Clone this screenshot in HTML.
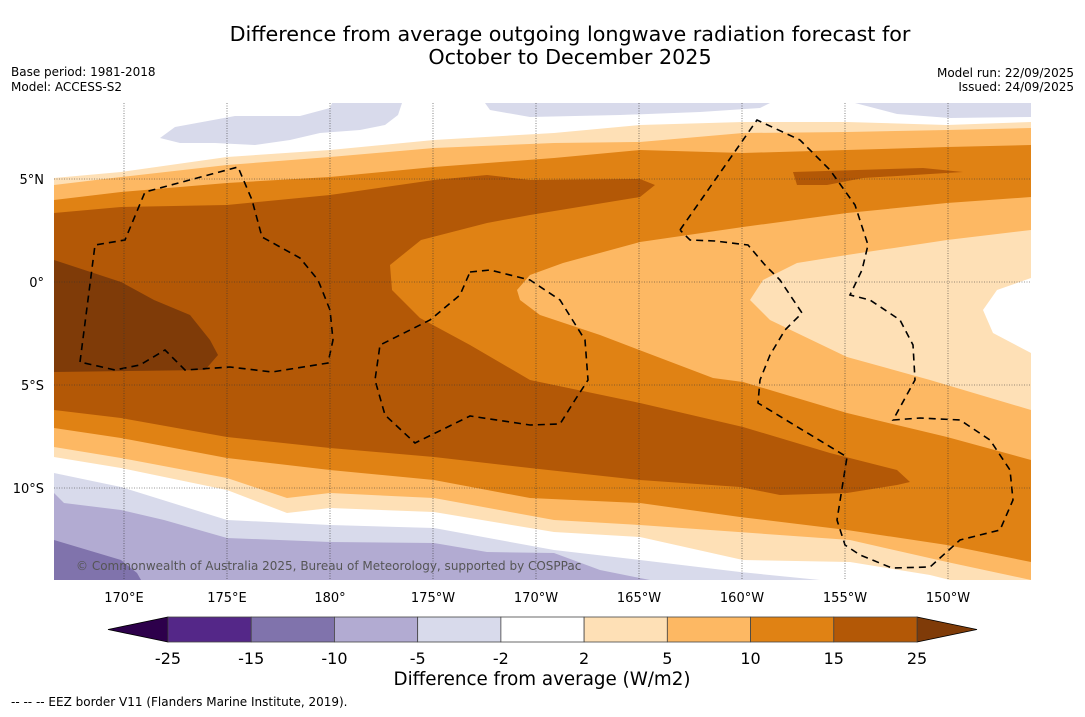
<!DOCTYPE html>
<html><head><meta charset="utf-8">
<style>
html,body{margin:0;padding:0;background:#fff;}
body{width:1085px;height:713px;overflow:hidden;font-family:"DejaVu Sans","Liberation Sans",sans-serif;}
svg text{font-family:"DejaVu Sans","Liberation Sans",sans-serif;}
</style></head>
<body>
<svg id="chart" width="1085" height="713" viewBox="0 0 1085 713">
<rect x="0" y="0" width="1085" height="713" fill="#fff"/>
<text x="570" y="41" text-anchor="middle" font-size="20.7" fill="#000">Difference from average outgoing longwave radiation forecast for</text>
<text x="570" y="64" text-anchor="middle" font-size="20.7" fill="#000">October to December 2025</text>
<text x="11" y="76" font-size="12">Base period: 1981-2018</text>
<text x="11" y="91" font-size="12">Model: ACCESS-S2</text>
<text x="1074" y="77" font-size="12" text-anchor="end">Model run: 22/09/2025</text>
<text x="1074" y="91" font-size="12" text-anchor="end">Issued: 24/09/2025</text>

<defs><clipPath id="mapclip"><rect x="54" y="103" width="977" height="477"/></clipPath></defs>
<g clip-path="url(#mapclip)">
<rect x="54" y="103" width="977" height="477" fill="#fff"/>
<polygon fill="#d8daeb" points="160,138 175,127 235,116 300,116 330,108 332,103 402,103 398,115 385,125 360,130 320,133 290,140 255,145 215,143 180,143"/>
<polygon fill="#d8daeb" points="485,103 770,103 760,108 700,112 620,115 530,117 490,110"/>
<polygon fill="#d8daeb" points="855,103 1031,103 1031,117 950,118 897,114"/>
<polygon fill="#d8daeb" points="54,473 121,487 227,520 330,525 434,528 554,550 640,560 740,572 820,580 54,580"/>
<polygon fill="#b2abd2" points="54,493 64,503 121,510 164,520 227,538 330,542 434,543 487,552 554,553 600,570 650,580 54,580"/>
<polygon fill="#8073ac" points="54,540 121,560 137,573 141,580 54,580"/>
<polygon fill="#fee0b6" points="54,178 121,172 227,157 330,150 434,140 554,133 640,125 743,122 847,122 947,125 1031,122 1031,580 950,580 930,575 850,562 743,560 640,537 554,532 434,512 330,508 287,513 227,490 121,468 54,457"/>
<polygon fill="#fdb863" points="54,185 121,177 227,165 330,157 434,148 554,143 640,142 743,133 847,132 947,130 1031,128 1031,580 947,562 850,540 640,525 554,520 434,498 330,493 287,498 227,478 121,458 54,447"/>
<polygon fill="#e08214" points="54,200 121,192 227,183 330,177 434,167 554,158 640,150 743,153 847,150 947,147 1031,145 1031,562 947,545 847,530 740,517 640,503 530,498 434,480 330,470 227,458 121,438 54,428"/>
<polygon fill="#fdb863" points="1031,197 947,203 847,213 743,227 640,242 563,263 530,275 517,290 520,300 540,315 600,335 713,378 743,382 847,413 947,437 1031,460"/>
<polygon fill="#fee0b6" points="1031,230 947,240 847,255 797,263 763,280 750,300 770,320 797,333 847,357 930,380 1031,410"/>
<polygon fill="#fff" points="1031,278 997,290 983,310 993,333 1031,353"/>
<polygon fill="#b35806" points="54,213 121,207 227,205 330,195 434,180 487,175 530,180 640,179 655,185 640,197 530,215 487,223 421,240 390,265 392,290 420,318 470,345 530,380 640,403 743,427 830,453 897,470 910,482 897,485 847,493 780,495 740,487 640,480 530,468 434,457 330,448 227,437 121,418 54,410"/>
<polygon fill="#b35806" points="793,172 923,168 963,172 863,178 827,185 797,185"/>
<polygon fill="#7f3b08" points="54,260 121,282 154,300 190,315 210,340 218,355 205,370 54,372"/>
<g stroke="#000" stroke-width="1.6" fill="none" stroke-dasharray="7,5">
<polyline points="80,362 95,245 125,240 145,192 238,167 252,200 262,237 300,258 318,280 330,310 333,340 328,363 272,372 230,367 185,370 165,350 140,365 115,370 80,362"/>
<polyline points="470,272 490,270 530,280 560,300 585,340 588,380 575,400 560,424 530,425 470,416 415,443 385,415 375,380 380,345 430,320 460,295 470,272"/>
<polyline points="680,230 757,120 800,140 830,170 855,205 868,245 862,270 850,295 870,300 900,320 913,345 915,380 893,420 920,418 960,420 990,440 1010,470 1013,500 1000,530 960,540 930,567 892,568 860,555 845,545 837,520 847,457 758,403 760,380 770,355 785,330 802,313 780,280 765,265 748,245 715,241 690,240 680,230"/>
</g>
<g id="grid"></g>
<text x="76" y="570" font-size="12" fill="#555">© Commonwealth of Australia 2025, Bureau of Meteorology, supported by COSPPac</text>
</g>
<g id="axes"></g>
<g id="cbar"></g>
<text x="542" y="685" text-anchor="middle" font-size="18.3">Difference from average (W/m2)</text>
<text x="11" y="706" font-size="12">--  --  -- EEZ border V11 (Flanders Marine Institute, 2019).</text>
</svg>
<script>
const lonTicks = ["170°E","175°E","180°","175°W","170°W","165°W","160°W","155°W","150°W"];
const lonValues = [170,175,180,185,190,195,200,205,210];
const latTicks = ["5°N","0°","5°S","10°S"];
const latValues = [5,0,-5,-10];
const cbarLevels = [-25,-15,-10,-5,-2,2,5,10,15,25];
const cbarColors = ["#542788","#8073ac","#b2abd2","#d8daeb","#ffffff","#fee0b6","#fdb863","#e08214","#b35806"];
const cbarExtendLow = "#2d004b";
const cbarExtendHigh = "#7f3b08";

const NS = "http://www.w3.org/2000/svg";
function xLon(l){ return 124 + (l-170)*20.6; }
function yLat(v){ return 282 - v*20.6; }
function mk(tag, attrs, parent){ const e=document.createElementNS(NS,tag); for(const k in attrs) e.setAttribute(k,attrs[k]); parent.appendChild(e); return e; }
const grid=document.getElementById('grid'), axes=document.getElementById('axes'), cbar=document.getElementById('cbar');
lonValues.forEach((v,i)=>{
  const x=xLon(v);
  const ln=mk('line',{x1:x,y1:103,x2:x,y2:580,stroke:'#333','stroke-width':0.6,'stroke-dasharray':'1,1.5'},grid);
  
  
  const t=mk('text',{x:x,y:602,'text-anchor':'middle','font-size':13},axes);
  t.textContent=lonTicks[i];
  
  
});
latValues.forEach((v,i)=>{
  const y=yLat(v);
  const ln=mk('line',{x1:54,y1:y,x2:1031,y2:y,stroke:'#333','stroke-width':0.6,'stroke-dasharray':'1,1.5'},grid);
  
  
  const t=mk('text',{x:44,y:y+5,'text-anchor':'end','font-size':13},axes);
  t.textContent=latTicks[i];
  
  
});
const cbX0=168, cbX1=917, cbY=617, cbH=25;
const n=cbarColors.length, w=(cbX1-cbX0)/n;
const lo=mk('polygon',{points:`${cbX0},${cbY} ${cbX0},${cbY+cbH} 108,${cbY+cbH/2}`,fill:cbarExtendLow,stroke:'#000','stroke-width':0.8},cbar);


const hi=mk('polygon',{points:`${cbX1},${cbY} ${cbX1},${cbY+cbH} 977,${cbY+cbH/2}`,fill:cbarExtendHigh,stroke:'#000','stroke-width':0.8},cbar);


cbarColors.forEach((c,i)=>{
  const r=mk('rect',{x:cbX0+i*w,y:cbY,width:w,height:cbH,fill:c,stroke:'#444','stroke-width':0.8},cbar);
  
  
});
cbarLevels.forEach((v,i)=>{
  const t=mk('text',{x:cbX0+i*w,y:664,'text-anchor':'middle','font-size':16},cbar);
  t.textContent=String(v);
  
  
});
</script>
</body></html>
